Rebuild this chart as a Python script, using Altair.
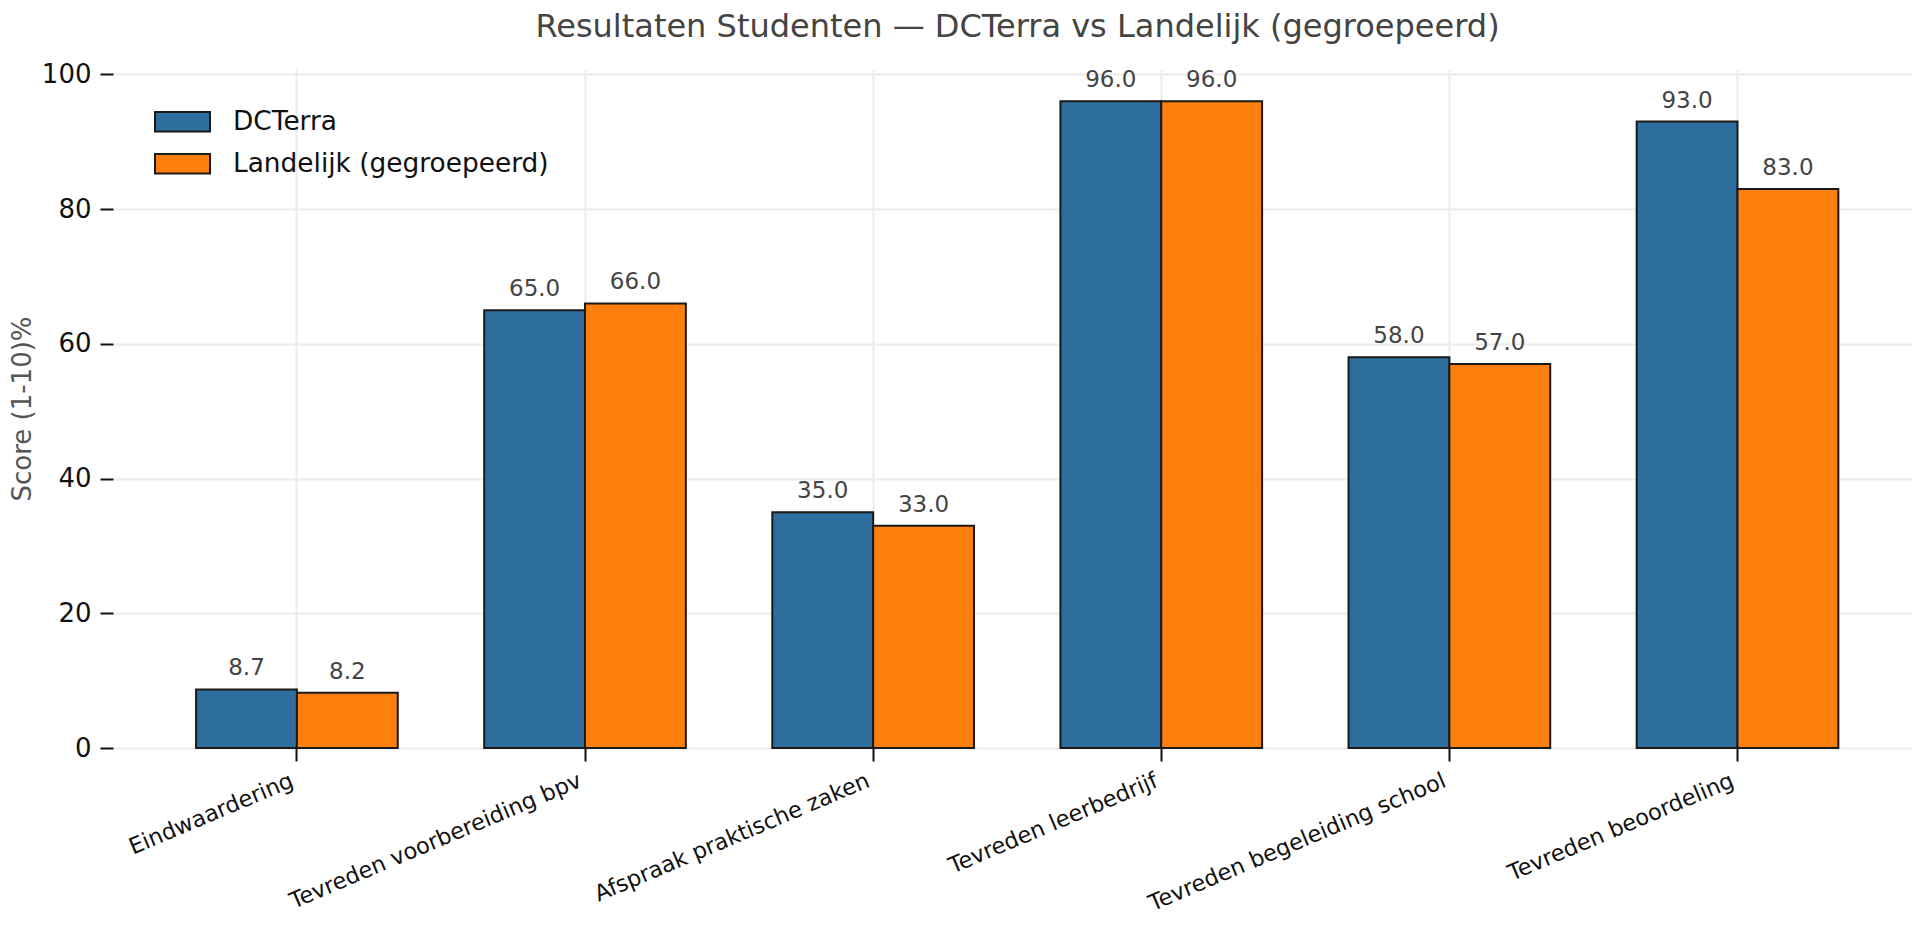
import altair as alt
import pandas as pd

categories = [
    "Eindwaardering",
    "Tevreden voorbereiding bpv",
    "Afspraak praktische zaken",
    "Tevreden leerbedrijf",
    "Tevreden begeleiding school",
    "Tevreden beoordeling",
]
dcterra = [8.7, 65.0, 35.0, 96.0, 58.0, 93.0]
landelijk = [8.2, 66.0, 33.0, 96.0, 57.0, 83.0]
series = ["DCTerra", "Landelijk (gegroepeerd)"]
colors = ["#2e6e9e", "#ff7f0e"]
y_ticks = [0, 20, 40, 60, 80, 100]

rows = []
for c, a, b in zip(categories, dcterra, landelijk):
    rows.append({"categorie": c, "reeks": series[0], "score": a})
    rows.append({"categorie": c, "reeks": series[1], "score": b})
df = pd.DataFrame(rows)

FONT = "DejaVu Sans"
GRID = "#ebebf0"

x = alt.X(
    "categorie:N",
    sort=categories,
    title=None,
    scale=alt.Scale(paddingInner=0.3, paddingOuter=0.272, align=0.53),
    axis=alt.Axis(
        labelAngle=337,
        labelAlign="right",
        labelBaseline="top",
        labelFontSize=22.5,
        labelFont=FONT,
        labelColor="#111111",
        labelPadding=8,
        labelOffset=-9,
        labelLimit=0,
        tickSize=13,
        tickWidth=2,
        tickColor="#111111",
        domain=False,
        grid=True,
        gridColor=GRID,
        gridWidth=2,
        bandPosition=0.5,
    ),
)
x_off = alt.XOffset(
    "reeks:N", sort=series, scale=alt.Scale(paddingInner=0, paddingOuter=0)
)
y = alt.Y(
    "score:Q",
    scale=alt.Scale(domain=[0, 100.8], nice=False, zero=True),
    axis=alt.Axis(
        values=y_ticks,
        labelFontSize=26,
        labelFont=FONT,
        labelColor="#111111",
        labelPadding=9,
        tickSize=13,
        tickWidth=2,
        tickColor="#111111",
        domain=False,
        grid=True,
        gridColor=GRID,
        gridWidth=2,
        title="Score (1-10)%",
        titleFont=FONT,
        titleFontSize=26,
        titleFontWeight="normal",
        titleColor="#555555",
        titleAngle=270,
        titleAlign="center",
        titleBaseline="alphabetic",
        titleX=-83,
        titleY=339.5,
    ),
)

bars = alt.Chart(df).mark_bar(stroke="#1a1a1a", strokeWidth=2).encode(
    x=x,
    xOffset=x_off,
    y=y,
    color=alt.Color(
        "reeks:N",
        sort=series,
        scale=alt.Scale(domain=series, range=colors),
        legend=alt.Legend(
            title=None,
            orient="none",
            legendX=41,
            legendY=32,
            symbolType="M-1,-0.355H1V0.355H-1Z",
            symbolSize=3025,
            symbolStrokeColor="#1a1a1a",
            symbolStrokeWidth=2,
            symbolOpacity=1,
            labelFontSize=26.4,
            labelFont=FONT,
            labelColor="#111111",
            labelOffset=22,
            labelLimit=0,
            clipHeight=41.3,
            rowPadding=0,
            padding=0,
        ),
    ),
)

labels = alt.Chart(df).mark_text(
    baseline="alphabetic", dy=-14, fontSize=23, font=FONT, color="#444444"
).encode(
    x=x,
    xOffset=x_off,
    y=y,
    text=alt.Text("score:Q", format=".1f"),
)

chart = (
    alt.layer(bars, labels)
    .properties(
        width=1799,
        height=679,
        padding={"left": 105, "top": 61, "right": 0, "bottom": 170},
        autosize=alt.AutoSizeParams(type="none"),
        background="white",
        title=alt.TitleParams(
            text="Resultaten Studenten — DCTerra vs Landelijk (gegroepeerd)",
            font=FONT,
            fontSize=32,
            fontWeight="normal",
            color="#444444",
            anchor="middle",
            orient="top",
            offset=17,
            dx=5,
        ),
    )
    .configure_view(stroke=None)
)

chart.save("out.html", embed_options={"renderer": "svg", "actions": False})
